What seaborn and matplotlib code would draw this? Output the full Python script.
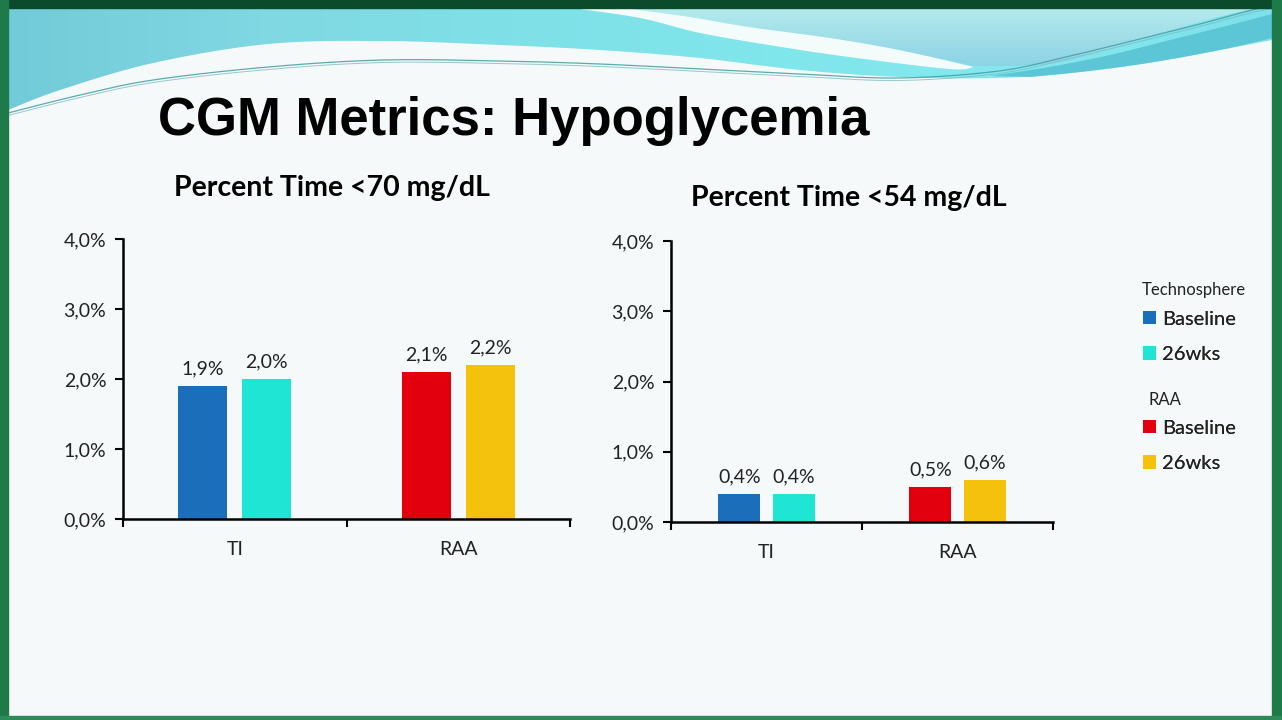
import numpy as np
import pandas as pd
import matplotlib
matplotlib.use("Agg")
import matplotlib.pyplot as plt
from matplotlib.path import Path
from matplotlib.patches import PathPatch, Rectangle, Patch
from matplotlib.ticker import FuncFormatter, FixedLocator
from matplotlib.colors import LinearSegmentedColormap
import seaborn as sns

# ---------------- data ----------------
categories = ["TI", "RAA"]
timepoints = ["Baseline", "26wks"]
below70_ti = [1.9, 2.0]
below70_raa = [2.1, 2.2]
below54_ti = [0.4, 0.4]
below54_raa = [0.5, 0.6]
panel_titles = ["Percent Time <70 mg/dL", "Percent Time <54 mg/dL"]
y_ticks = [0.0, 1.0, 2.0, 3.0, 4.0]
main_title = "CGM Metrics: Hypoglycemia"
legend_groups = ["Technosphere", "RAA"]

colors = {("TI", "Baseline"): "#1b6fba", ("TI", "26wks"): "#1fe5d5",
          ("RAA", "Baseline"): "#e2000f", ("RAA", "26wks"): "#f4c20d"}

def make_df(ti, raa):
    rows = []
    for tp, v in zip(timepoints, ti):
        rows.append(("TI", tp, v))
    for tp, v in zip(timepoints, raa):
        rows.append(("RAA", tp, v))
    return pd.DataFrame(rows, columns=["category", "timepoint", "value"])

df70 = make_df(below70_ti, below70_raa)
df54 = make_df(below54_ti, below54_raa)

sns.set_theme(style="white")
plt.rcParams["font.family"] = ["Lato", "DejaVu Sans"]

W, H = 1282, 720
fig = plt.figure(figsize=(W / 100, H / 100), dpi=100)
fig.patch.set_facecolor("#f5f9f9")

# ---------------- slide background decoration ----------------
bg = fig.add_axes([0, 0, 1, 1], zorder=-10)
bg.set_xlim(0, W)
bg.set_ylim(H, 0)
bg.axis("off")
bg.add_patch(Rectangle((0, 0), W, H, color="#f5f9f9", zorder=0))

def smooth(pts, n=12):
    """Catmull-Rom smoothing of a decorative outline."""
    p = np.asarray(pts, dtype=float)
    p = np.vstack([p[0], p, p[-1]])
    out = []
    for i in range(1, len(p) - 2):
        p0, p1, p2, p3 = p[i - 1], p[i], p[i + 1], p[i + 2]
        for t in np.linspace(0, 1, n, endpoint=False):
            t2, t3 = t * t, t * t * t
            out.append(0.5 * ((2 * p1) + (-p0 + p2) * t + (2 * p0 - 5 * p1 + 4 * p2 - p3) * t2
                              + (-p0 + 3 * p1 - 3 * p2 + p3) * t3))
    out.append(p[-2])
    return np.array(out)

def clipped_gradient(verts, colors_list, horizontal=True, z=1, extent=(8, 1272, 120, 8)):
    path = Path(verts)
    clip = PathPatch(path, transform=bg.transData, facecolor="none", edgecolor="none")
    bg.add_patch(clip)
    g = np.linspace(0, 1, 256)
    g = g.reshape(1, -1) if horizontal else g.reshape(-1, 1)
    im = bg.imshow(g, extent=extent, cmap=LinearSegmentedColormap.from_list("c", colors_list),
                   aspect="auto", zorder=z, interpolation="bilinear")
    im.set_clip_path(clip)

# base cyan band
base_edge = smooth([(1272, 40), (1220, 50), (1148, 63), (1080, 72), (999, 78), (899, 77),
                    (800, 70), (700, 58), (600, 50), (500, 45), (383, 41), (268, 44),
                    (153, 63), (60, 90), (8, 110)])
base = np.vstack([[(8, 8), (1272, 8)], base_edge])
clipped_gradient(base, ["#72cbd8", "#7fd8e2", "#80e0e8", "#7fe6ec", "#86e8ee", "#7ee0ea"], z=1)
# light region right of the white swoosh
light_lower = smooth([(625, 8), (690, 17), (749, 27), (830, 38), (899, 50), (974, 66)])
light_right = smooth([(974, 66), (1049, 64), (1100, 52), (1148, 37), (1200, 22), (1248, 10),
                      (1272, 8)])
light = np.vstack([light_lower, light_right])
clipped_gradient(light, ["#b4ebee", "#9fdde8", "#8ad2e6"], horizontal=False, z=2,
                 extent=(600, 1272, 70, 8))
# white swoosh band
sw_up = smooth([(572, 8), (640, 18), (700, 33), (775, 46), (849, 57), (949, 69), (974, 67)])
sw_lo = smooth([(974, 67), (899, 50), (830, 38), (749, 27), (690, 17), (625, 8)])
bg.add_patch(PathPatch(Path(np.vstack([sw_up, sw_lo])), facecolor="#f4fbfb",
                       edgecolor="none", zorder=3))
# teal stripe at the right
st_up = smooth([(990, 76), (1049, 67), (1110, 55), (1170, 40), (1230, 25), (1272, 14)])
st_lo = smooth([(1272, 38), (1220, 50), (1148, 63), (1080, 72), (1030, 77)])
bg.add_patch(PathPatch(Path(np.vstack([st_up, st_lo])), facecolor="#5cc6d6",
                       edgecolor="none", zorder=3))
# thin swoosh lines
ln = smooth([(8, 113), (80, 95), (153, 80), (268, 67), (383, 60), (500, 61), (600, 64),
             (700, 69), (800, 74), (899, 78), (999, 71), (1070, 56), (1148, 37), (1200, 24),
             (1248, 11), (1272, 6)])
bg.plot(ln[:, 0], ln[:, 1], color="#3f9ea3", lw=0.9, alpha=0.85, zorder=4)
bg.plot(ln[:, 0], ln[:, 1] + 2.5, color="#7cbcc2", lw=0.7, alpha=0.8, zorder=4)

# green frame
bg.add_patch(Rectangle((0, 0), W, 8, color="#0b4a2a", zorder=5))
bg.add_patch(Rectangle((0, 0), 8, H, color="#1f7a4a", zorder=5))
bg.add_patch(Rectangle((1272, 0), 10, H, color="#1f7a4a", zorder=5))
bg.add_patch(Rectangle((0, 716), W, 4, color="#2f8a5a", zorder=5))

# ---------------- main title ----------------
fig.text(158 / W, 1 - 121 / H, main_title, fontsize=38, fontweight="bold",
         family=["Liberation Sans", "DejaVu Sans"],
         ha="left", va="center", color="black")

# ---------------- panels ----------------
axes_pos = [[123 / W, 1 - 519 / H, 447 / W, 280 / H],
            [671 / W, 1 - 522 / H, 382 / W, 281 / H]]
title_pos = [(332, 188), (849, 198)]
pct = FuncFormatter(lambda v, p: f"{v:.1f}%".replace(".", ","))

for pos, dfp, ttl, tpos in zip(axes_pos, [df70, df54], panel_titles, title_pos):
    ax = fig.add_axes(pos)
    ax.set_facecolor("none")
    sns.barplot(data=dfp, x="category", y="value", hue="timepoint", order=categories,
                hue_order=timepoints, palette=[colors[("TI", t)] for t in timepoints],
                width=0.57, gap=0.23, saturation=1, legend=False, ax=ax, errorbar=None)
    for cont, tp in zip(ax.containers, timepoints):
        for bar, cat in zip(cont, categories):
            bar.set_facecolor(colors[(cat, tp)])
            bar.set_edgecolor("none")
        ax.bar_label(cont, labels=[f"{b.get_height():.1f}%".replace(".", ",") for b in cont],
                     padding=6, fontsize=14, color="#222222")
    ax.set_ylim(0, 4.0)
    ax.set_xlim(-0.5, 1.5)
    ax.yaxis.set_major_locator(FixedLocator(y_ticks))
    ax.yaxis.set_major_formatter(pct)
    ax.set_xlabel("")
    ax.set_ylabel("")
    ax.tick_params(axis="y", which="major", left=True, length=6, width=1.5,
                   color="black", labelsize=14, pad=6, labelcolor="#222222")
    ax.tick_params(axis="x", which="major", bottom=False, labelsize=14, pad=10,
                   labelcolor="#222222")
    ax.xaxis.set_minor_locator(FixedLocator([-0.5, 0.5, 1.5]))
    ax.tick_params(axis="x", which="minor", bottom=True, length=6, width=1.5, color="black")
    for s in ["top", "right"]:
        ax.spines[s].set_visible(False)
    for s in ["left", "bottom"]:
        ax.spines[s].set_color("black")
        ax.spines[s].set_linewidth(1.8)
    ax.grid(False)
    fig.text(tpos[0] / W, 1 - tpos[1] / H, ttl, fontsize=20.5, fontweight="bold",
             ha="center", va="center", color="black")

# ---------------- legends ----------------
leg_specs = [("TI", "Technosphere", (1142, 290), 337),
             ("RAA", "RAA", (1149, 400), 446)]
for cat, name, head_xy, ymid in leg_specs:
    fig.text(head_xy[0] / W, 1 - head_xy[1] / H, name, fontsize=12, color="#222222",
             ha="left", va="center")
    handles = [Patch(facecolor=colors[(cat, t)], edgecolor="none") for t in timepoints]
    leg = fig.legend(handles, timepoints, loc="center left", bbox_to_anchor=(1137 / W, 1 - ymid / H),
                     frameon=False, fontsize=14.5,
                     handlelength=0.65, handleheight=0.65,
                     handletextpad=0.3, labelspacing=0.92, borderaxespad=0, borderpad=0.3)
    for t in leg.get_texts():
        t.set_color("#222222")
    fig.add_artist(leg)

fig.savefig("out.png", dpi=100)
